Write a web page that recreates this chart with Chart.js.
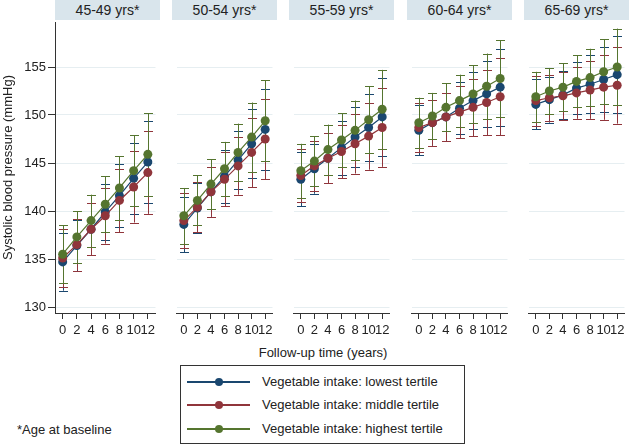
<!DOCTYPE html>
<html>
<head>
<meta charset="utf-8">
<script src="https://cdn.jsdelivr.net/npm/chart.js@4/dist/chart.umd.min.js"></script>
<style>
  body { margin: 0; background: #fff; font-family: "Liberation Sans", Arial, sans-serif; color: #222; }
  #wrap { position: relative; width: 630px; height: 445px; overflow: hidden; }
  canvas { position: absolute; top: 0; }
  .head { position: absolute; top: 0; height: 20px; width: 105px; background: #d9e5ec;
          font-size: 14px; line-height: 20px; text-align: center; }
  #xtitle { position: absolute; left: 223px; width: 200px; top: 345px; text-align: center; font-size: 13px; }
  #note { position: absolute; left: 17px; top: 422px; font-size: 13px; }
  #legend { position: absolute; left: 180px; top: 365px; width: 283px; height: 77px; border: 1px solid #333; }
  .row { position: absolute; left: 6px; height: 16px; font-size: 13px; line-height: 16px; }
  .row .ln { position: absolute; left: 0; top: 7px; width: 63px; height: 2px; }
  .row .dot { position: absolute; left: 28px; top: 4px; width: 8px; height: 8px; border-radius: 50%; }
  .row .tx { position: absolute; left: 75px; white-space: nowrap; }
</style>
</head>
<body>
<div id="wrap"></div>
<script>
const times = [0, 2, 4, 6, 8, 10, 12];
const ageGroups = ['45-49 yrs*', '50-54 yrs*', '55-59 yrs*', '60-64 yrs*', '65-69 yrs*'];
const seriesNames = ['Vegetable intake: lowest tertile', 'Vegetable intake: middle tertile', 'Vegetable intake: highest tertile'];
const yTicks = [130, 135, 140, 145, 150, 155];

// mean SBP per age group, one row per panel
const lowest = [
  [134.7, 136.4, 138.1, 139.9, 141.6, 143.4, 145.1],
  [138.6, 140.3, 142.0, 143.6, 145.3, 147.0, 148.5],
  [143.3, 144.4, 145.5, 146.6, 147.7, 148.7, 149.8],
  [148.4, 149.2, 149.8, 150.7, 151.5, 152.2, 152.9],
  [151.1, 151.6, 152.1, 152.8, 153.2, 153.7, 154.2]
];
const middle = [
  [135.1, 136.5, 138.1, 139.5, 141.1, 142.5, 144.0],
  [139.0, 140.4, 142.0, 143.3, 144.7, 146.1, 147.5],
  [143.7, 144.7, 145.5, 146.2, 147.0, 147.8, 148.7],
  [148.7, 149.2, 149.8, 150.3, 150.8, 151.3, 151.9],
  [151.5, 151.8, 152.0, 152.3, 152.6, 152.9, 153.1]
];
const highest = [
  [135.5, 137.3, 139.0, 140.7, 142.4, 144.2, 145.9],
  [139.5, 141.1, 142.8, 144.4, 146.1, 147.7, 149.4],
  [144.2, 145.2, 146.4, 147.4, 148.4, 149.5, 150.6],
  [149.2, 149.9, 150.8, 151.5, 152.2, 153.0, 153.8],
  [151.9, 152.5, 152.9, 153.5, 153.9, 154.5, 155.0]
];
// half width of the 95% CI, per panel
const ciHalf = [
  [3.0, 2.7, 2.7, 2.9, 3.3, 3.7, 4.3],
  [2.9, 2.6, 2.6, 2.8, 3.0, 3.6, 4.2],
  [2.8, 2.6, 2.6, 2.8, 3.1, 3.5, 4.1],
  [2.6, 2.4, 2.5, 2.7, 3.0, 3.4, 4.0],
  [2.6, 2.4, 2.5, 2.7, 3.0, 3.4, 4.0]
];

const colors = ['#1a476f', '#90353b', '#55752f'];
const panelLeft = [55, 172, 289, 407, 524];
const panelW = 105;
const font = "'Liberation Sans', Arial, sans-serif";

// error bars drawn under the lines
const errorBars = {
  id: 'errorBars',
  beforeDatasetsDraw(chart) {
    const ctx = chart.ctx, xs = chart.scales.x, ys = chart.scales.y;
    ctx.save();
    ctx.lineWidth = 1;
    chart.data.datasets.forEach(ds => {
      ctx.strokeStyle = ds.borderColor;
      ds.data.forEach((p, i) => {
        const x = Math.round(xs.getPixelForValue(p.x)) + 0.5;
        const hi = ys.getPixelForValue(p.y + ds.ci[i]);
        const lo = ys.getPixelForValue(p.y - ds.ci[i]);
        ctx.beginPath();
        ctx.moveTo(x, hi); ctx.lineTo(x, lo);
        ctx.moveTo(x - 4.5, Math.round(hi) + 0.5); ctx.lineTo(x + 4.5, Math.round(hi) + 0.5);
        ctx.moveTo(x - 4.5, Math.round(lo) + 0.5); ctx.lineTo(x + 4.5, Math.round(lo) + 0.5);
        ctx.stroke();
      });
    });
    ctx.restore();
  }
};

const wrap = document.getElementById('wrap');
const all = [lowest, middle, highest];

ageGroups.forEach((name, p) => {
  const first = p === 0;
  const cv = document.createElement('canvas');
  const left = first ? 0 : panelLeft[p];
  const w = first ? panelLeft[0] + panelW : panelW;
  cv.width = w; cv.height = 345;
  cv.style.left = left + 'px';
  wrap.appendChild(cv);

  const head = document.createElement('div');
  head.className = 'head';
  head.style.left = panelLeft[p] + 'px';
  head.textContent = name;
  wrap.appendChild(head);

  const datasets = all.map((s, k) => ({
    label: seriesNames[k],
    data: times.map((t, i) => ({ x: t, y: s[p][i] })),
    ci: ciHalf[p],
    borderColor: colors[k],
    backgroundColor: colors[k],
    borderWidth: 1.2,
    pointRadius: 4.5,
    pointBorderWidth: 0,
    tension: 0,
    order: 3 - k
  }));

  new Chart(cv, {
    type: 'line',
    data: { datasets },
    options: {
      responsive: false,
      animation: false,
      layout: { padding: { top: 22, left: 0, right: 0, bottom: 0 } },
      plugins: { legend: { display: false }, tooltip: { enabled: false } },
      scales: {
        x: {
          type: 'linear',
          min: -1.08, max: 13.08,
          afterBuildTicks: s => { s.ticks = times.map(v => ({ value: v })); },
          afterFit: s => { s.height = 32; },
          grid: { drawOnChartArea: false, tickLength: 6, tickColor: '#333' },
          border: { color: '#333', width: 1 },
          ticks: { font: { family: font, size: 13 }, color: '#222', padding: 4, maxRotation: 0, autoSkip: false }
        },
        y: {
          min: 129.375, max: 159.6875,
          afterBuildTicks: s => { s.ticks = yTicks.map(v => ({ value: v })); },
          afterFit: s => { s.width = first ? panelLeft[0] : 0; },
          grid: { color: '#e6eef1', drawTicks: first, tickLength: 7, tickColor: '#333' },
          border: { display: first, color: '#333', width: 1 },
          ticks: { display: first, font: { family: font, size: 13 }, color: '#222', padding: 2 },
          title: { display: first, text: 'Systolic blood pressure (mmHg)', font: { family: font, size: 13 }, color: '#222', padding: { top: 1, bottom: 2 } }
        }
      }
    },
    plugins: [errorBars]
  });
});

// legend and notes
const xt = document.createElement('div');
xt.id = 'xtitle'; xt.textContent = 'Follow-up time (years)';
wrap.appendChild(xt);
const note = document.createElement('div');
note.id = 'note'; note.textContent = '*Age at baseline';
wrap.appendChild(note);
const lg = document.createElement('div');
lg.id = 'legend';
const rowTop = [8, 31, 55];
seriesNames.forEach((n, k) => {
  const r = document.createElement('div');
  r.className = 'row';
  r.style.top = rowTop[k] + 'px';
  r.innerHTML = '<div class="ln" style="background:' + colors[k] + '"></div>' +
    '<div class="dot" style="background:' + colors[k] + '"></div>' +
    '<div class="tx">' + n + '</div>';
  lg.appendChild(r);
});
wrap.appendChild(lg);
</script>
</body>
</html>
